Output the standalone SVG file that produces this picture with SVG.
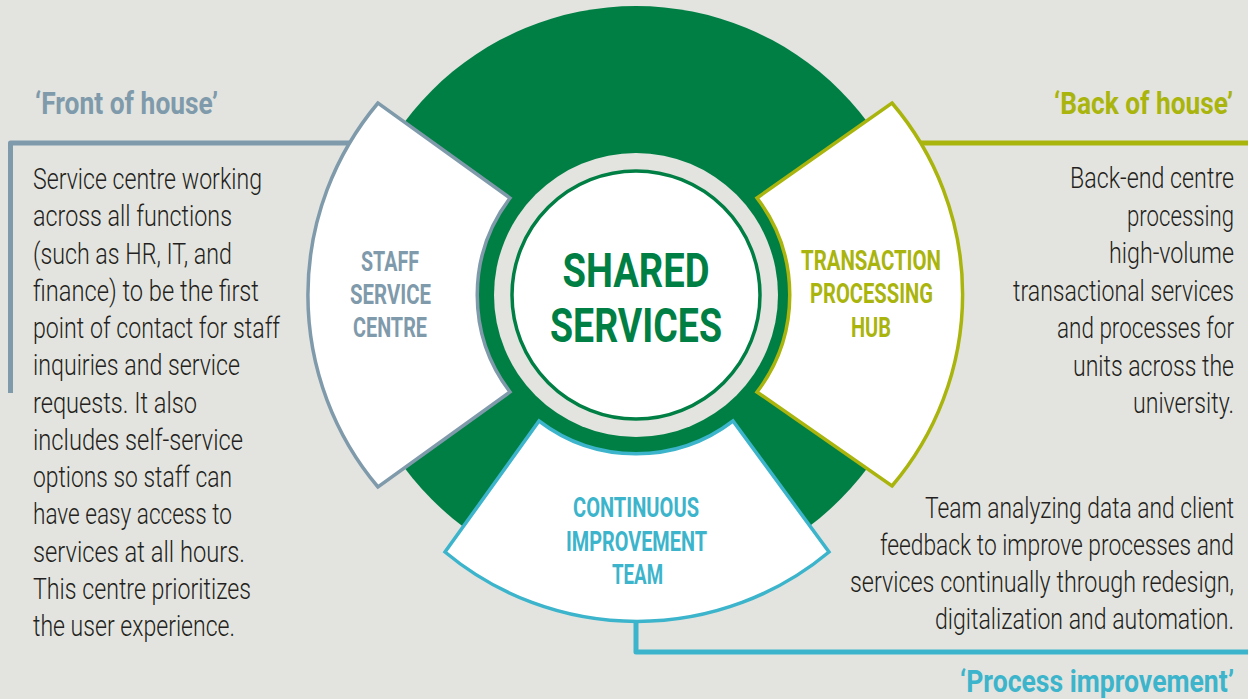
<svg xmlns="http://www.w3.org/2000/svg" width="1248" height="699" viewBox="0 0 1248 699">
<style>
.body{font-family:Roboto,"Liberation Sans",sans-serif;font-size:30px;font-weight:300;fill:#231f20;}
.head{font-family:Roboto,"Liberation Sans",sans-serif;font-size:31px;font-weight:bold;}
.lab{font-family:Roboto,"Liberation Sans",sans-serif;font-size:27px;font-weight:bold;text-anchor:middle;}
.big{font-family:Roboto,"Liberation Sans",sans-serif;font-size:49px;font-weight:bold;text-anchor:middle;fill:#007f45;}
.seg{fill:#ffffff;stroke-width:3.5;stroke-linejoin:miter;}
.conn{fill:none;stroke-width:5;stroke-linejoin:round;}
.blue{fill:#7f9aab;} .olive{fill:#a9b40d;} .cyan{fill:#3cb4cb;}
</style>
<rect x="0" y="0" width="1248" height="699" fill="#e3e4df"/>

<g id="connectors">
  <path class="conn" stroke="#7f9aab" d="M355,143 H10.5 V393"/>
  <path class="conn" stroke="#a9b40d" d="M915,143 H1248"/>
  <path class="conn" stroke="#3cb4cb" d="M636,612 V652 H1248"/>
</g>

<g id="shared-services">
  <circle cx="636" cy="295" r="289" fill="#007f45"/>
  <circle cx="636" cy="295" r="142" fill="#e3e4df"/>
  <circle cx="636" cy="295" r="124" fill="#ffffff" stroke="#007f45" stroke-width="3.5"/>
  <text class="big" x="636" y="287" textLength="147" lengthAdjust="spacingAndGlyphs">SHARED</text>
  <text class="big" x="636" y="342" textLength="172" lengthAdjust="spacingAndGlyphs">SERVICES</text>
</g>

<g id="staff-service-centre">
  <path class="seg" stroke="#7f9aab" d="M378,103 A298,298 0 0 0 378,487 L510,392 A160,160 0 0 1 510,198 Z"/>
  <text class="lab blue" x="390" y="271" textLength="58" lengthAdjust="spacingAndGlyphs">STAFF</text>
  <text class="lab blue" x="390.5" y="304" textLength="81" lengthAdjust="spacingAndGlyphs">SERVICE</text>
  <text class="lab blue" x="390" y="337" textLength="74" lengthAdjust="spacingAndGlyphs">CENTRE</text>
</g>

<g id="transaction-processing-hub">
  <path class="seg" stroke="#a9b40d" d="M892,103 A295,295 0 0 1 892,486 L757,392 A160,160 0 0 0 757,198 Z"/>
  <text class="lab olive" x="871" y="270" textLength="140" lengthAdjust="spacingAndGlyphs">TRANSACTION</text>
  <text class="lab olive" x="871.5" y="303" textLength="123" lengthAdjust="spacingAndGlyphs">PROCESSING</text>
  <text class="lab olive" x="871" y="337" textLength="40" lengthAdjust="spacingAndGlyphs">HUB</text>
</g>

<g id="continuous-improvement-team">
  <path class="seg" stroke="#3cb4cb" d="M539,421 A160,160 0 0 0 733,421 L829,552 A300,300 0 0 1 445,552 Z"/>
  <text class="lab cyan" x="636" y="517" textLength="126" lengthAdjust="spacingAndGlyphs">CONTINUOUS</text>
  <text class="lab cyan" x="636.5" y="551" textLength="141" lengthAdjust="spacingAndGlyphs">IMPROVEMENT</text>
  <text class="lab cyan" x="637.5" y="584" textLength="51" lengthAdjust="spacingAndGlyphs">TEAM</text>
</g>

<g id="front-of-house">
  <text class="head blue" x="35" y="114" textLength="183" lengthAdjust="spacingAndGlyphs">‘Front of house’</text>
  <text class="body" x="33" y="189" textLength="229" lengthAdjust="spacingAndGlyphs">Service centre working</text>
  <text class="body" x="33" y="226.25" textLength="199" lengthAdjust="spacingAndGlyphs">across all functions</text>
  <text class="body" x="33" y="263.5" textLength="199" lengthAdjust="spacingAndGlyphs">(such as HR, IT, and</text>
  <text class="body" x="33" y="300.75" textLength="226" lengthAdjust="spacingAndGlyphs">finance) to be the first</text>
  <text class="body" x="33" y="338" textLength="247" lengthAdjust="spacingAndGlyphs">point of contact for staff</text>
  <text class="body" x="33" y="375.25" textLength="207" lengthAdjust="spacingAndGlyphs">inquiries and service</text>
  <text class="body" x="33" y="412.5" textLength="164" lengthAdjust="spacingAndGlyphs">requests. It also</text>
  <text class="body" x="33" y="449.75" textLength="210" lengthAdjust="spacingAndGlyphs">includes self-service</text>
  <text class="body" x="33" y="487" textLength="199" lengthAdjust="spacingAndGlyphs">options so staff can</text>
  <text class="body" x="33" y="524.25" textLength="199" lengthAdjust="spacingAndGlyphs">have easy access to</text>
  <text class="body" x="33" y="561.5" textLength="212" lengthAdjust="spacingAndGlyphs">services at all hours.</text>
  <text class="body" x="33" y="598.75" textLength="218" lengthAdjust="spacingAndGlyphs">This centre prioritizes</text>
  <text class="body" x="33" y="636" textLength="202" lengthAdjust="spacingAndGlyphs">the user experience.</text>
</g>

<g id="back-of-house">
  <text class="head olive" transform="translate(1054,114) scale(0.72,1)" textLength="248.6" lengthAdjust="spacingAndGlyphs">‘Back of house’</text>
  <text class="body" transform="translate(1070,188) scale(0.72,1)" textLength="227.8" lengthAdjust="spacingAndGlyphs">Back-end centre</text>
  <text class="body" transform="translate(1127,225.5) scale(0.72,1)" textLength="148.6" lengthAdjust="spacingAndGlyphs">processing</text>
  <text class="body" transform="translate(1109,263) scale(0.72,1)" textLength="173.6" lengthAdjust="spacingAndGlyphs">high-volume</text>
  <text class="body" transform="translate(1013,300.5) scale(0.72,1)" textLength="306.9" lengthAdjust="spacingAndGlyphs">transactional services</text>
  <text class="body" transform="translate(1057,338) scale(0.72,1)" textLength="245.8" lengthAdjust="spacingAndGlyphs">and processes for</text>
  <text class="body" transform="translate(1073,375.5) scale(0.72,1)" textLength="223.6" lengthAdjust="spacingAndGlyphs">units across the</text>
  <text class="body" transform="translate(1133,413) scale(0.72,1)" textLength="140.3" lengthAdjust="spacingAndGlyphs">university.</text>
</g>

<g id="process-improvement">
  <text class="body" transform="translate(925,518) scale(0.72,1)" textLength="429.2" lengthAdjust="spacingAndGlyphs">Team analyzing data and client</text>
  <text class="body" transform="translate(880,555) scale(0.72,1)" textLength="491.7" lengthAdjust="spacingAndGlyphs">feedback to improve processes and</text>
  <text class="body" transform="translate(850,592) scale(0.72,1)" textLength="533.3" lengthAdjust="spacingAndGlyphs">services continually through redesign,</text>
  <text class="body" transform="translate(935,629) scale(0.72,1)" textLength="415.3" lengthAdjust="spacingAndGlyphs">digitalization and automation.</text>
  <text class="head cyan" transform="translate(960,692) scale(0.72,1)" textLength="380.6" lengthAdjust="spacingAndGlyphs">‘Process improvement’</text>
</g>
</svg>
